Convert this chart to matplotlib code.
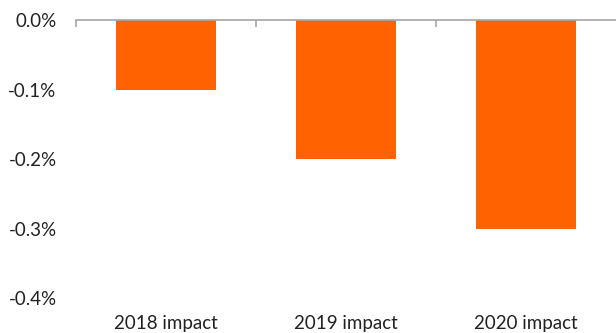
import matplotlib.pyplot as plt
from matplotlib.ticker import FixedLocator

categories = ['2018 impact', '2019 impact', '2020 impact']
values = [-0.1, -0.2, -0.3]
yticks = [0.0, -0.1, -0.2, -0.3, -0.4]

plt.rcParams['font.family'] = ['Lato', 'DejaVu Sans']

fig = plt.figure(figsize=(6.16, 3.33), dpi=100)
ax = fig.add_axes([76 / 616, 1 - 298 / 333, 540 / 616, 278 / 333])

x = range(len(categories))
ax.bar(x, values, width=0.556, color='#FF6200', zorder=2)

ax.set_xlim(-0.5, 2.5)
ax.set_ylim(-0.4, 0.0)
ax.set_yticks(yticks)
ax.set_yticklabels([f'{v:.1f}%' for v in yticks])
ax.set_xticks(list(x))
ax.set_xticklabels(categories)

for s in ['left', 'right', 'bottom']:
    ax.spines[s].set_visible(False)
ax.spines['top'].set_color('#A6A6A6')
ax.spines['top'].set_linewidth(1.2)
ax.spines['top'].set_zorder(3)

ax.xaxis.set_minor_locator(FixedLocator([-0.5, 0.5, 1.5]))
ax.tick_params(axis='x', which='minor', top=True, bottom=False, direction='in',
               length=5, color='#A6A6A6', width=1.2)
ax.tick_params(axis='x', which='major', length=0, pad=12, labelsize=13.5, labelcolor='#222222')
ax.tick_params(axis='y', length=0, pad=14, labelsize=13.5, labelcolor='#222222')

fig.savefig('out.png', dpi=100)
